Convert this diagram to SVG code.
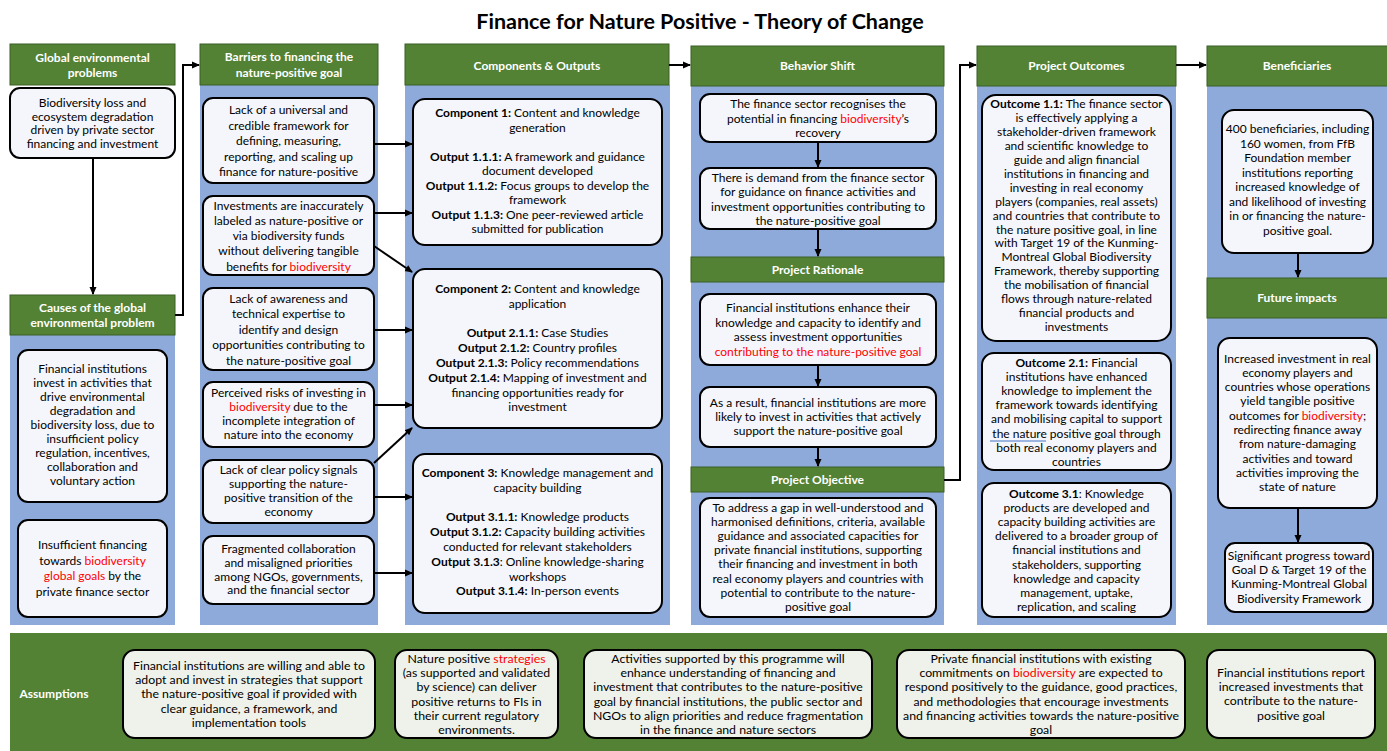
<svg xmlns="http://www.w3.org/2000/svg" width="1387" height="751" viewBox="0 0 1387 751">
<defs>
<marker id="arr" markerWidth="8" markerHeight="8" refX="7" refY="4" orient="auto" markerUnits="userSpaceOnUse">
<path d="M0,0.5 L8,4 L0,7.5 Z" fill="#000"/>
</marker>
<style>
.hdr{fill:#548235;stroke:#3b5e25;stroke-width:1}
.panel{fill:#8EAADB}
.box{fill:#F4F6FC;stroke:#000;stroke-width:2}
.abox{fill:#EEF2EA;stroke:#000;stroke-width:2}
text{font-family:Lato,"Liberation Sans",sans-serif;font-size:12px;fill:#000;text-anchor:middle}
.ht{font-weight:bold;fill:#fff;font-size:12px}
.title{font-weight:bold;font-size:21.5px}
.b{font-weight:bold}
.r{fill:#FF0000}
.at{font-size:12.3px}
.conn{stroke:#000;stroke-width:2;fill:none;marker-end:url(#arr)}
</style>
</defs>
<rect width="1387" height="751" fill="#fff"/>
<text class="title" x="700" y="29">Finance for Nature Positive - Theory of Change</text>

<g id="panels">
<rect class="panel" x="10" y="335" width="165" height="290"/>
<rect class="panel" x="200" y="85" width="178" height="540"/>
<rect class="panel" x="405" y="85" width="265" height="540"/>
<rect class="panel" x="691" y="86" width="253" height="539"/>
<rect class="panel" x="977" y="86" width="199" height="539"/>
<rect class="panel" x="1207" y="86" width="180" height="539"/>
</g>

<g id="h-global">
<rect class="hdr" x="10" y="44" width="165" height="41"/>
<text class="ht" x="92.5" y="62">Global environmental<tspan x="92.5" dy="15">problems</tspan></text>
</g>
<g id="n-biodiv-loss">
<rect class="box" x="10" y="88" width="165" height="70" rx="10"/>
<text x="92.5" y="107">Biodiversity loss and<tspan x="92.5" dy="13.6">ecosystem degradation</tspan><tspan x="92.5" dy="13.6">driven by private sector</tspan><tspan x="92.5" dy="13.6">financing and investment</tspan></text>
</g>
<g id="h-causes">
<rect class="hdr" x="10" y="295" width="165" height="40"/>
<text class="ht" x="92.5" y="312">Causes of the global<tspan x="92.5" dy="15">environmental problem</tspan></text>
</g>
<g id="n-cause1">
<rect class="box" x="18" y="350" width="149" height="152" rx="10"/>
<text x="92.5" y="373">Financial institutions<tspan x="92.5" dy="14">invest in activities that</tspan><tspan x="92.5" dy="14">drive environmental</tspan><tspan x="92.5" dy="14">degradation and</tspan><tspan x="92.5" dy="14">biodiversity loss, due to</tspan><tspan x="92.5" dy="14">insufficient policy</tspan><tspan x="92.5" dy="14">regulation, incentives,</tspan><tspan x="92.5" dy="14">collaboration and</tspan><tspan x="92.5" dy="14">voluntary action</tspan></text>
</g>
<g id="n-cause2">
<rect class="box" x="18" y="520" width="149" height="97" rx="10"/>
<text x="92.5" y="549">Insufficient financing<tspan x="92.5" dy="15.5">towards <tspan class="r">biodiversity</tspan></tspan><tspan x="92.5" dy="15.5"><tspan class="r">global goals</tspan> by the</tspan><tspan x="92.5" dy="15.5">private finance sector</tspan></text>
</g>

<g id="h-barriers">
<rect class="hdr" x="200" y="44" width="178" height="41"/>
<text class="ht" x="289" y="61">Barriers to financing the<tspan x="289" dy="15.5">nature-positive goal</tspan></text>
</g>
<g id="n-bar1">
<rect class="box" x="203" y="98" width="171" height="85" rx="10"/>
<text x="288.5" y="114">Lack of a universal and<tspan x="288.5" dy="15.6">credible framework for</tspan><tspan x="288.5" dy="15.6">defining, measuring,</tspan><tspan x="288.5" dy="15.6">reporting, and scaling up</tspan><tspan x="288.5" dy="15.6">finance for nature-positive</tspan></text>
</g>
<g id="n-bar2">
<rect class="box" x="203" y="196" width="171" height="79" rx="10"/>
<text x="288.5" y="209.5">Investments are inaccurately<tspan x="288.5" dy="15.3">labeled as nature-positive or</tspan><tspan x="288.5" dy="15.3">via biodiversity funds</tspan><tspan x="288.5" dy="15.3">without delivering tangible</tspan><tspan x="288.5" dy="15.3">benefits for <tspan class="r">biodiversity</tspan></tspan></text>
</g>
<g id="n-bar3">
<rect class="box" x="203" y="288" width="171" height="82" rx="10"/>
<text x="288.5" y="302.5">Lack of awareness and<tspan x="288.5" dy="15.6">technical expertise to</tspan><tspan x="288.5" dy="15.6">identify and design</tspan><tspan x="288.5" dy="15.6">opportunities contributing to</tspan><tspan x="288.5" dy="15.6">the nature-positive goal</tspan></text>
</g>
<g id="n-bar4">
<rect class="box" x="203" y="382" width="171" height="65" rx="10"/>
<text x="288.5" y="397">Perceived risks of investing in<tspan x="288.5" dy="14"><tspan class="r">biodiversity</tspan> due to the</tspan><tspan x="288.5" dy="14">incomplete integration of</tspan><tspan x="288.5" dy="14">nature into the economy</tspan></text>
</g>
<g id="n-bar5">
<rect class="box" x="203" y="460" width="171" height="63" rx="10"/>
<text x="288.5" y="474">Lack of clear policy signals<tspan x="288.5" dy="14">supporting the nature-</tspan><tspan x="288.5" dy="14">positive transition of the</tspan><tspan x="288.5" dy="14">economy</tspan></text>
</g>
<g id="n-bar6">
<rect class="box" x="203" y="536" width="171" height="68" rx="10"/>
<text x="288.5" y="553">Fragmented collaboration<tspan x="288.5" dy="13.8">and misaligned priorities</tspan><tspan x="288.5" dy="13.8">among NGOs, governments,</tspan><tspan x="288.5" dy="13.8">and the financial sector</tspan></text>
</g>

<g id="h-components">
<rect class="hdr" x="405" y="44" width="264" height="41"/>
<text class="ht" x="537" y="70">Components &amp; Outputs</text>
</g>
<g id="n-comp1">
<rect class="box" x="413" y="99" width="249" height="146" rx="12"/>
<text x="537.5" y="117"><tspan class="b">Component 1:</tspan> Content and knowledge<tspan x="537.5" dy="14.5">generation</tspan><tspan x="537.5" dy="29"><tspan class="b">Output 1.1.1:</tspan> A framework and guidance</tspan><tspan x="537.5" dy="14.5">document developed</tspan><tspan x="537.5" dy="14.5"><tspan class="b">Output 1.1.2:</tspan> Focus groups to develop the</tspan><tspan x="537.5" dy="14.5">framework</tspan><tspan x="537.5" dy="14.5"><tspan class="b">Output 1.1.3:</tspan> One peer-reviewed article</tspan><tspan x="537.5" dy="14.5">submitted for publication</tspan></text>
</g>
<g id="n-comp2">
<rect class="box" x="413" y="269" width="249" height="159" rx="12"/>
<text x="537.5" y="293"><tspan class="b">Component 2:</tspan> Content and knowledge<tspan x="537.5" dy="14.8">application</tspan><tspan x="537.5" dy="29.6"><tspan class="b">Output 2.1.1:</tspan> Case Studies</tspan><tspan x="537.5" dy="14.8"><tspan class="b">Output 2.1.2:</tspan> Country profiles</tspan><tspan x="537.5" dy="14.8"><tspan class="b">Output 2.1.3:</tspan> Policy recommendations</tspan><tspan x="537.5" dy="14.8"><tspan class="b">Output 2.1.4:</tspan> Mapping of investment and</tspan><tspan x="537.5" dy="14.8">financing opportunities ready for</tspan><tspan x="537.5" dy="14.8">investment</tspan></text>
</g>
<g id="n-comp3">
<rect class="box" x="413" y="454" width="249" height="159" rx="12"/>
<text x="537.5" y="477"><tspan class="b">Component 3:</tspan> Knowledge management and<tspan x="537.5" dy="14.8">capacity building</tspan><tspan x="537.5" dy="29.6"><tspan class="b">Output 3.1.1:</tspan> Knowledge products</tspan><tspan x="537.5" dy="14.8"><tspan class="b">Output 3.1.2:</tspan> Capacity building activities</tspan><tspan x="537.5" dy="14.8">conducted for relevant stakeholders</tspan><tspan x="537.5" dy="14.8"><tspan class="b">Output 3.1.3</tspan>: Online knowledge-sharing</tspan><tspan x="537.5" dy="14.8">workshops</tspan><tspan x="537.5" dy="14.8"><tspan class="b">Output 3.1.4:</tspan> In-person events</tspan></text>
</g>

<g id="h-behavior">
<rect class="hdr" x="691" y="46" width="253" height="40"/>
<text class="ht" x="817.5" y="70">Behavior Shift</text>
</g>
<g id="n-bs1">
<rect class="box" x="700" y="94" width="236" height="48" rx="10"/>
<text x="818" y="108">The finance sector recognises the<tspan x="818" dy="14.5">potential in financing <tspan class="r">biodiversity</tspan>’s</tspan><tspan x="818" dy="14.5">recovery</tspan></text>
</g>
<g id="n-bs2">
<rect class="box" x="700" y="168" width="236" height="61" rx="10"/>
<text x="818" y="181.5">There is demand from the finance sector<tspan x="818" dy="14.5">for guidance on finance activities and</tspan><tspan x="818" dy="14.5">investment opportunities contributing to</tspan><tspan x="818" dy="14.5">the nature-positive goal</tspan></text>
</g>
<g id="h-rationale">
<rect class="hdr" x="691" y="257" width="253" height="25"/>
<text class="ht" x="817.5" y="274">Project Rationale</text>
</g>
<g id="n-pr1">
<rect class="box" x="700" y="294" width="236" height="71" rx="10"/>
<text x="818" y="312">Financial institutions enhance their<tspan x="818" dy="14.5">knowledge and capacity to identify and</tspan><tspan x="818" dy="14.5">assess investment opportunities</tspan><tspan x="818" dy="14.5" class="r">contributing to the nature-positive goal</tspan></text>
</g>
<g id="n-pr2">
<rect class="box" x="700" y="387" width="236" height="60" rx="10"/>
<text x="818" y="407">As a result, financial institutions are more<tspan x="818" dy="14">likely to invest in activities that actively</tspan><tspan x="818" dy="14">support the nature-positive goal</tspan></text>
</g>
<g id="h-objective">
<rect class="hdr" x="691" y="467" width="253" height="25"/>
<text class="ht" x="817.5" y="483.5">Project Objective</text>
</g>
<g id="n-po1">
<rect class="box" x="700" y="498" width="236" height="119" rx="10"/>
<text x="818" y="512">To address a gap in well-understood and<tspan x="818" dy="14.1">harmonised definitions, criteria, available</tspan><tspan x="818" dy="14.1">guidance and associated capacities for</tspan><tspan x="818" dy="14.1">private financial institutions, supporting</tspan><tspan x="818" dy="14.1">their financing and investment in both</tspan><tspan x="818" dy="14.1">real economy players and countries with</tspan><tspan x="818" dy="14.1">potential to contribute to the nature-</tspan><tspan x="818" dy="14.1">positive goal</tspan></text>
</g>

<g id="h-outcomes">
<rect class="hdr" x="977" y="46" width="199" height="40"/>
<text class="ht" x="1076.5" y="70">Project Outcomes</text>
</g>
<g id="n-out1">
<rect class="box" x="982" y="95" width="189" height="246" rx="14"/>
<text x="1076.5" y="108"><tspan class="b">Outcome 1.1:</tspan> The finance sector<tspan x="1076.5" dy="13.95">is effectively applying a</tspan><tspan x="1076.5" dy="13.95">stakeholder-driven framework</tspan><tspan x="1076.5" dy="13.95">and scientific knowledge to</tspan><tspan x="1076.5" dy="13.95">guide and align financial</tspan><tspan x="1076.5" dy="13.95">institutions in financing and</tspan><tspan x="1076.5" dy="13.95">investing in real economy</tspan><tspan x="1076.5" dy="13.95">players (companies, real assets)</tspan><tspan x="1076.5" dy="13.95">and countries that contribute to</tspan><tspan x="1076.5" dy="13.95">the nature positive goal, in line</tspan><tspan x="1076.5" dy="13.95">with Target 19 of the Kunming-</tspan><tspan x="1076.5" dy="13.95">Montreal Global Biodiversity</tspan><tspan x="1076.5" dy="13.95">Framework, thereby supporting</tspan><tspan x="1076.5" dy="13.95">the mobilisation of financial</tspan><tspan x="1076.5" dy="13.95">flows through nature-related</tspan><tspan x="1076.5" dy="13.95">financial products and</tspan><tspan x="1076.5" dy="13.95">investments</tspan></text>
</g>
<g id="n-out2">
<rect class="box" x="982" y="353" width="189" height="117" rx="12"/>
<text x="1076.5" y="367"><tspan class="b">Outcome 2.1:</tspan> Financial<tspan x="1076.5" dy="14.1">institutions have enhanced</tspan><tspan x="1076.5" dy="14.1">knowledge to implement the</tspan><tspan x="1076.5" dy="14.1">framework towards identifying</tspan><tspan x="1076.5" dy="14.1">and mobilising capital to support</tspan><tspan x="1076.5" dy="14.1">the nature positive goal through</tspan><tspan x="1076.5" dy="14.1">both real economy players and</tspan><tspan x="1076.5" dy="14.1">countries</tspan></text>
<line x1="990" y1="441" x2="1046" y2="441" stroke="#4472C4" stroke-width="1"/>
</g>
<g id="n-out3">
<rect class="box" x="982" y="483" width="189" height="134" rx="12"/>
<text x="1076.5" y="498"><tspan class="b">Outcome 3.1</tspan>: Knowledge<tspan x="1076.5" dy="14.1">products are developed and</tspan><tspan x="1076.5" dy="14.1">capacity building activities are</tspan><tspan x="1076.5" dy="14.1">delivered to a broader group of</tspan><tspan x="1076.5" dy="14.1">financial institutions and</tspan><tspan x="1076.5" dy="14.1">stakeholders, supporting</tspan><tspan x="1076.5" dy="14.1">knowledge and capacity</tspan><tspan x="1076.5" dy="14.1">management, uptake,</tspan><tspan x="1076.5" dy="14.1">replication, and scaling</tspan></text>
</g>

<g id="h-beneficiaries">
<rect class="hdr" x="1207" y="46" width="181" height="40"/>
<text class="ht" x="1297" y="70">Beneficiaries</text>
</g>
<g id="n-ben1">
<rect class="box" x="1222" y="110" width="151" height="143" rx="12"/>
<text x="1297.5" y="133">400 beneficiaries, including<tspan x="1297.5" dy="14.5">160 women, from FfB</tspan><tspan x="1297.5" dy="14.5">Foundation member</tspan><tspan x="1297.5" dy="14.5">institutions reporting</tspan><tspan x="1297.5" dy="14.5">increased knowledge of</tspan><tspan x="1297.5" dy="14.5">and likelihood of investing</tspan><tspan x="1297.5" dy="14.5">in or financing the nature-</tspan><tspan x="1297.5" dy="14.5">positive goal.</tspan></text>
</g>
<g id="h-future">
<rect class="hdr" x="1207" y="278" width="181" height="40"/>
<text class="ht" x="1297" y="302">Future impacts</text>
</g>
<g id="n-ben2">
<rect class="box" x="1218" y="338" width="159" height="170" rx="12"/>
<text x="1297.5" y="362.5">Increased investment in real<tspan x="1297.5" dy="14.3">economy players and</tspan><tspan x="1297.5" dy="14.3">countries whose operations</tspan><tspan x="1297.5" dy="14.3">yield tangible positive</tspan><tspan x="1297.5" dy="14.3">outcomes for <tspan class="r">biodiversity</tspan>;</tspan><tspan x="1297.5" dy="14.3">redirecting finance away</tspan><tspan x="1297.5" dy="14.3">from nature-damaging</tspan><tspan x="1297.5" dy="14.3">activities and toward</tspan><tspan x="1297.5" dy="14.3">activities improving the</tspan><tspan x="1297.5" dy="14.3">state of nature</tspan></text>
</g>
<g id="n-ben3">
<rect class="box" x="1225" y="543" width="148" height="69" rx="10"/>
<text x="1299" y="560">Significant progress toward<tspan x="1299" dy="14.2">Goal D &amp; Target 19 of the</tspan><tspan x="1299" dy="14.2">Kunming-Montreal Global</tspan><tspan x="1299" dy="14.2">Biodiversity Framework</tspan></text>
</g>

<g id="assumptions">
<rect x="10" y="633" width="1377" height="118" fill="#548235"/>
<text class="ht" x="54" y="698">Assumptions</text>
</g>
<g id="n-as1">
<rect class="abox" x="123" y="650" width="252" height="88" rx="12"/>
<text class="at" x="249" y="670">Financial institutions are willing and able to<tspan x="249" dy="14.2">adopt and invest in strategies that support</tspan><tspan x="249" dy="14.2">the nature-positive goal if provided with</tspan><tspan x="249" dy="14.2">clear guidance, a framework, and</tspan><tspan x="249" dy="14.2">implementation tools</tspan></text>
</g>
<g id="n-as2">
<rect class="abox" x="395" y="650" width="163" height="88" rx="12"/>
<text class="at" x="476.5" y="663">Nature positive <tspan class="r">strategies</tspan><tspan x="476.5" dy="14.2">(as supported and validated</tspan><tspan x="476.5" dy="14.2">by science) can deliver</tspan><tspan x="476.5" dy="14.2">positive returns to FIs in</tspan><tspan x="476.5" dy="14.2">their current regulatory</tspan><tspan x="476.5" dy="14.2">environments.</tspan></text>
</g>
<g id="n-as3">
<rect class="abox" x="584" y="650" width="288" height="88" rx="12"/>
<text class="at" x="728" y="663">Activities supported by this programme will<tspan x="728" dy="14.2">enhance understanding of financing and</tspan><tspan x="728" dy="14.2">investment that contributes to the nature-positive</tspan><tspan x="728" dy="14.2">goal by financial institutions, the public sector and</tspan><tspan x="728" dy="14.2">NGOs to align priorities and reduce fragmentation</tspan><tspan x="728" dy="14.2">in the finance and nature sectors</tspan></text>
</g>
<g id="n-as4">
<rect class="abox" x="897" y="650" width="288" height="88" rx="12"/>
<text class="at" x="1041" y="663">Private financial institutions with existing<tspan x="1041" dy="14.2">commitments on <tspan class="r">biodiversity</tspan> are expected to</tspan><tspan x="1041" dy="14.2">respond positively to the guidance, good practices,</tspan><tspan x="1041" dy="14.2">and methodologies that encourage investments</tspan><tspan x="1041" dy="14.2">and financing activities towards the nature-positive</tspan><tspan x="1041" dy="14.2">goal</tspan></text>
</g>
<g id="n-as5">
<rect class="abox" x="1207" y="650" width="168" height="88" rx="12"/>
<text class="at" x="1291" y="677">Financial institutions report<tspan x="1291" dy="14.2">increased investments that</tspan><tspan x="1291" dy="14.2">contribute to the nature-</tspan><tspan x="1291" dy="14.2">positive goal</tspan></text>
</g>

<g id="connectors">
<path class="conn" d="M93,158 V294"/>
<path class="conn" d="M175,315 H183 V65 H199"/>
<path class="conn" d="M374,144 H412"/>
<path class="conn" d="M374,213 H412"/>
<path class="conn" d="M374,246 L412,272"/>
<path class="conn" d="M374,330 H412"/>
<path class="conn" d="M374,405 H412"/>
<path class="conn" d="M374,463 L412,428"/>
<path class="conn" d="M374,497 H412"/>
<path class="conn" d="M374,573 H412"/>
<path class="conn" d="M669,65 H690"/>
<path class="conn" d="M818,142 V167"/>
<path class="conn" d="M818,229 V256"/>
<path class="conn" d="M818,365 V386"/>
<path class="conn" d="M818,447 V466"/>
<path class="conn" d="M944,480 H960 V65 H976"/>
<path class="conn" d="M1176,65 H1206"/>
<path class="conn" d="M1298,253 V277"/>
<path class="conn" d="M1298,508 V542"/>
</g>
</svg>
